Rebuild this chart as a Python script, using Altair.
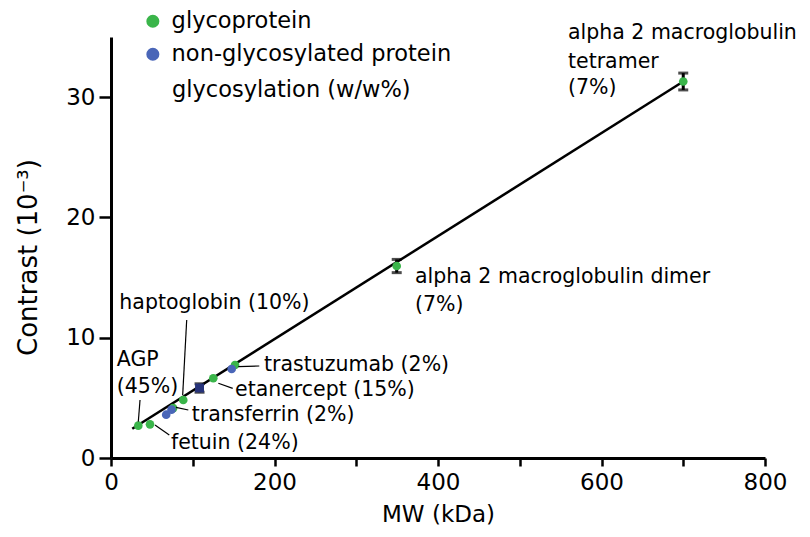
import altair as alt
import pandas as pd

FONT = "DejaVu Sans"

# ---- data points ----
pt_mw = [33.4, 47.7, 76.0, 88.4, 125.1, 151.7, 349.5, 700.0, 67.5, 74.0, 147.6]
pt_c = [2.69, 2.80, 4.15, 4.82, 6.63, 7.73, 15.96, 31.3, 3.60, 4.02, 7.40]
pt_type = ["glycoprotein"] * 8 + ["non-glycosylated protein"] * 3

# dark square (overlapping measurement with error bar)
sq_mw = [108.3]
sq_c = [5.82]

# error bars
eb_mw = [108.3, 349.5, 700.0]
eb_lo = [5.47, 15.41, 30.6]
eb_hi = [6.17, 16.51, 32.0]

# fitted line endpoints
line_mw = [26.0, 700.0]
line_c = [2.43, 31.3]

# annotation texts
ann_text = ["alpha 2 macroglobulin", "tetramer", "(7%)",
            "alpha 2 macroglobulin dimer", "(7%)",
            "haptoglobin (10%)", "AGP", "(45%)",
            "trastuzumab (2%)", "etanercept (15%)", "transferrin (2%)",
            "fetuin (24%)"]
ann_mw = [559.0, 559.0, 559.0, 371.9, 371.9, 10.2, 7.0, 7.0,
          187.2, 151.7, 98.7, 73.4]
ann_c = [35.33, 32.94, 30.73, 15.05, 12.72, 12.89, 8.15, 5.93,
         7.73, 5.65, 3.58, 1.22]

note_text = ["glycosylation (w/w%)"]
note_mw = [74.6]
note_c = [30.59]

# leader lines
ld_mw = [92.6, 35.5, 53.8, 79.5, 131.3, 155.7]
ld_c = [11.47, 4.82, 2.74, 4.21, 6.21, 7.59]
ld_mw2 = [87.7, 33.4, 71.3, 94.6, 148.9, 181.4]
ld_c2 = [5.24, 3.02, 1.91, 3.99, 5.79, 7.65]

x_ticks = [0, 100, 200, 300, 400, 500, 600, 700, 800]
y_ticks = [0, 10, 20, 30]

GREEN = "#3ab54a"
BLUE = "#4a66b8"
SQUARE = "#26337a"

def X(field="mw"):
    return alt.X(f"{field}:Q", title="MW (kDa)",
                 scale=alt.Scale(domain=[0, 800], nice=False, zero=False),
                 axis=alt.Axis(values=x_ticks,
                               labelExpr="datum.value % 200 == 0 ? datum.label : ''",
                               tickSize=8, labelPadding=5,
                               titleY=56, titleBaseline="middle"))

def Y(field="c"):
    return alt.Y(f"{field}:Q", title="Contrast (10⁻³)",
                 scale=alt.Scale(domain=[0, 35], nice=False, zero=False),
                 axis=alt.Axis(values=y_ticks, tickSize=12, labelPadding=4,
                               titleX=-83, titleY=220, titleAngle=270,
                               titleBaseline="middle", titleAlign="center",
                               titleFontSize=26))

pts = pd.DataFrame({"mw": pt_mw, "c": pt_c, "type": pt_type})
sq = pd.DataFrame({"mw": sq_mw, "c": sq_c})
eb = pd.DataFrame({"mw": eb_mw, "c": eb_lo, "c2": eb_hi})
ebcap = pd.DataFrame({"mw": eb_mw * 2, "c": eb_lo + eb_hi})
ln = pd.DataFrame({"mw": line_mw, "c": line_c})
ann = pd.DataFrame({"mw": ann_mw, "c": ann_c, "t": ann_text})
note = pd.DataFrame({"mw": note_mw, "c": note_c, "t": note_text})
ld = pd.DataFrame({"mw": ld_mw, "c": ld_c, "mw2": ld_mw2, "c2": ld_c2})

line = alt.Chart(ln).mark_line(color="black", strokeWidth=2.5).encode(x=X(), y=Y())

ebar = alt.Chart(eb).mark_rule(color="black", strokeWidth=3).encode(
    x=X(), y=Y(), y2="c2:Q")
ecap = alt.Chart(ebcap).mark_tick(color="black", thickness=3, size=10,
                                  orient="horizontal").encode(x=X(), y=Y())

points = alt.Chart(pts).mark_circle(size=75, opacity=1).encode(
    x=X(), y=Y(),
    color=alt.Color("type:N",
                    scale=alt.Scale(domain=["glycoprotein", "non-glycosylated protein"],
                                    range=[GREEN, BLUE]),
                    legend=alt.Legend(orient="none", legendX=30.6, legendY=-27,
                                      title=None, labelFontSize=22.5, labelFont=FONT,
                                      labelColor="black", labelLimit=0,
                                      symbolSize=170,
                                      symbolType="circle", labelOffset=7.5,
                                      rowPadding=10, padding=0,
                                      symbolStrokeWidth=0, symbolOpacity=1)))

square = alt.Chart(sq).mark_square(size=80, color=SQUARE, opacity=1).encode(x=X(), y=Y())

leaders = alt.Chart(ld).mark_rule(color="black", strokeWidth=1.2).encode(
    x=X(), y=Y(), x2="mw2:Q", y2="c2:Q")

texts = alt.Chart(ann).mark_text(align="left", baseline="middle", font=FONT,
                                 fontSize=20.5, color="black").encode(
    x=X(), y=Y(), text="t:N")

notes = alt.Chart(note).mark_text(align="left", baseline="middle", font=FONT,
                                  fontSize=22.5, color="black").encode(
    x=X(), y=Y(), text="t:N")

chart = alt.layer(line, ebar, ecap, square, points, leaders, texts, notes).properties(
    width=654, height=421,
    background="white",
    autosize=alt.AutoSizeParams(type="none"),
    padding={"left": 103, "top": 29, "right": 36, "bottom": 70},
).configure_view(stroke=None).configure_axis(
    grid=False, domainColor="black", domainWidth=3, tickColor="black",
    tickWidth=2.5, labelFont=FONT, labelFontSize=23, labelColor="black",
    titleFont=FONT, titleFontSize=23, titleFontWeight="normal", titleColor="black",
    labelFlush=False, labelOverlap=False,
)

chart.save("out.html", embed_options={"renderer": "svg", "actions": False})
